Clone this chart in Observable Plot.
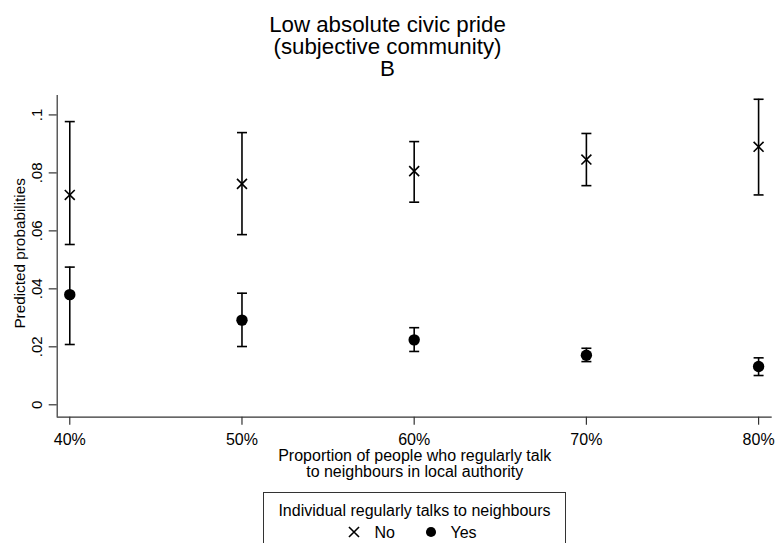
<!DOCTYPE html>
<html><head><meta charset="utf-8">
<script src="https://cdn.jsdelivr.net/npm/d3@7"></script>
<script src="https://cdn.jsdelivr.net/npm/@observablehq/plot@0.6"></script>
<style>
body{margin:0;background:#fff;font-family:"Liberation Sans",Arial,sans-serif;color:#000;width:775px;}
#title{height:84px;box-sizing:border-box;padding-top:14.3px;text-align:center;font-size:22.3px;line-height:21.8px;}
#chart svg{display:block}
#legend{box-sizing:border-box;margin-left:263px;margin-top:7.7px;width:303px;height:60px;border:1px solid #333;border-bottom:none;text-align:center;font-size:16px;line-height:21.6px;padding-top:7.6px;}
#legend .line{position:relative;left:-3px;}
#legend .item{display:inline-block;white-space:nowrap;}
#legend svg{vertical-align:-2px;}
</style></head><body>
<div id="title"></div><div id="chart"></div><div id="legend"></div>
<script>
const titleLines = ["Low absolute civic pride", "(subjective community)", "B"];
const yLabel = "Predicted probabilities";
const xTitle = "Proportion of people who regularly talk\nto neighbours in local authority";
const legendTitle = "Individual regularly talks to neighbours";
const groups = ["No", "Yes"];

const xPct = [40, 50, 60, 70, 80];
const xTickLabels = ["40%", "50%", "60%", "70%", "80%"];
const yTicks = [0, 0.02, 0.04, 0.06, 0.08, 0.1];
const yTickLabels = ["0", ".02", ".04", ".06", ".08", ".1"];

const noEst = [0.0724, 0.0762, 0.0806, 0.0846, 0.0890];
const noLo  = [0.0553, 0.0587, 0.0699, 0.0756, 0.0724];
const noHi  = [0.0977, 0.0939, 0.0908, 0.0936, 0.1054];
const yesEst = [0.0380, 0.0292, 0.0224, 0.0171, 0.0132];
const yesLo  = [0.0208, 0.0201, 0.0184, 0.0149, 0.0101];
const yesHi  = [0.0475, 0.0385, 0.0266, 0.0195, 0.0162];

const rows = xPct.flatMap((x, i) => [
  {x, group: groups[0], est: noEst[i], lo: noLo[i], hi: noHi[i]},
  {x, group: groups[1], est: yesEst[i], lo: yesLo[i], hi: yesHi[i]}
]);
const noRows = rows.filter(d => d.group === groups[0]);
const yesRows = rows.filter(d => d.group === groups[1]);

document.getElementById("title").innerHTML = titleLines.map(t => `<div>${t}</div>`).join("");

const xDomain = [39.27, 80.79];
const yDomain = [-0.00428, 0.1067];
const capSymbol = {draw(ctx) { ctx.moveTo(-5, 0); ctx.lineTo(5, 0); }};
const ink = "#000";
const axisInk = "#333";

const plot = Plot.plot({
  width: 775, height: 400,
  marginLeft: 56.7, marginRight: 3.3, marginTop: 11, marginBottom: 67.3,
  style: {fontFamily: "Liberation Sans, Arial, sans-serif", fontSize: "15px", color: "#000", background: "#fff"},
  x: {domain: xDomain},
  y: {domain: yDomain},
  marks: [
    Plot.ruleX([xDomain[0]], {stroke: axisInk, strokeWidth: 1.2}),
    Plot.ruleY([yDomain[0]], {stroke: axisInk, strokeWidth: 1.2}),
    Plot.ruleX(xPct, {x: d => d, y1: yDomain[0], y2: yDomain[0], insetBottom: -8, stroke: axisInk, strokeWidth: 1.2}),
    Plot.ruleY(yTicks, {y: d => d, x1: xDomain[0], x2: xDomain[0], insetLeft: -8, stroke: axisInk, strokeWidth: 1.2}),
    Plot.axisX({ticks: xPct, tickFormat: d => xTickLabels[xPct.indexOf(d)], tickSize: 0, tickPadding: 16.9, fontSize: 16, label: null}),
    Plot.axisY({ticks: yTicks, tickFormat: d => yTickLabels[yTicks.indexOf(d)], tickSize: 0, tickPadding: 19.7, rotate: -90, textAnchor: "middle", lineAnchor: "middle", fontSize: 15, label: null}),
    Plot.text([yLabel], {frameAnchor: "left", rotate: -90, textAnchor: "middle", lineAnchor: "middle", dx: -37, dy: -3, fontSize: 15.3, fill: ink}),
    Plot.text([xTitle], {frameAnchor: "bottom", textAnchor: "middle", lineAnchor: "top", dy: 33.6, fontSize: 16, lineHeight: 0.94, fill: ink}),
    Plot.ruleX(rows, {x: "x", y1: "lo", y2: "hi", stroke: ink, strokeWidth: 1.6}),
    Plot.dot(rows, {x: "x", y: "lo", symbol: capSymbol, stroke: ink, fill: "none", strokeWidth: 1.6}),
    Plot.dot(rows, {x: "x", y: "hi", symbol: capSymbol, stroke: ink, fill: "none", strokeWidth: 1.6}),
    Plot.dot(noRows, {x: "x", y: "est", symbol: "times", r: 4.6, stroke: ink, strokeWidth: 1.6}),
    Plot.dot(yesRows, {x: "x", y: "est", symbol: "circle", r: 5.7, fill: ink, stroke: "none"})
  ]
});
document.getElementById("chart").append(plot);

// legend
const legend = d3.select("#legend");
legend.append("div").text(legendTitle);
const line = legend.append("div").attr("class", "line");
const legendSymbols = [{type: d3.symbolTimes, size: 68, stroke: ink, fill: "none"}, {type: d3.symbolCircle, size: 80, stroke: "none", fill: ink}];
groups.forEach((g, i) => {
  const item = line.append("span").attr("class", "item").style("margin-left", i ? "28.3px" : "0px");
  const s = item.append("svg").attr("width", 16).attr("height", 16);
  s.append("path").attr("transform", "translate(8,8)")
    .attr("d", d3.symbol(legendSymbols[i].type, legendSymbols[i].size)())
    .attr("stroke", legendSymbols[i].stroke).attr("stroke-width", 1.6).attr("fill", legendSymbols[i].fill);
  item.append("span").style("margin-left", i ? "11.3px" : "12px").text(g);
});
</script></body></html>
